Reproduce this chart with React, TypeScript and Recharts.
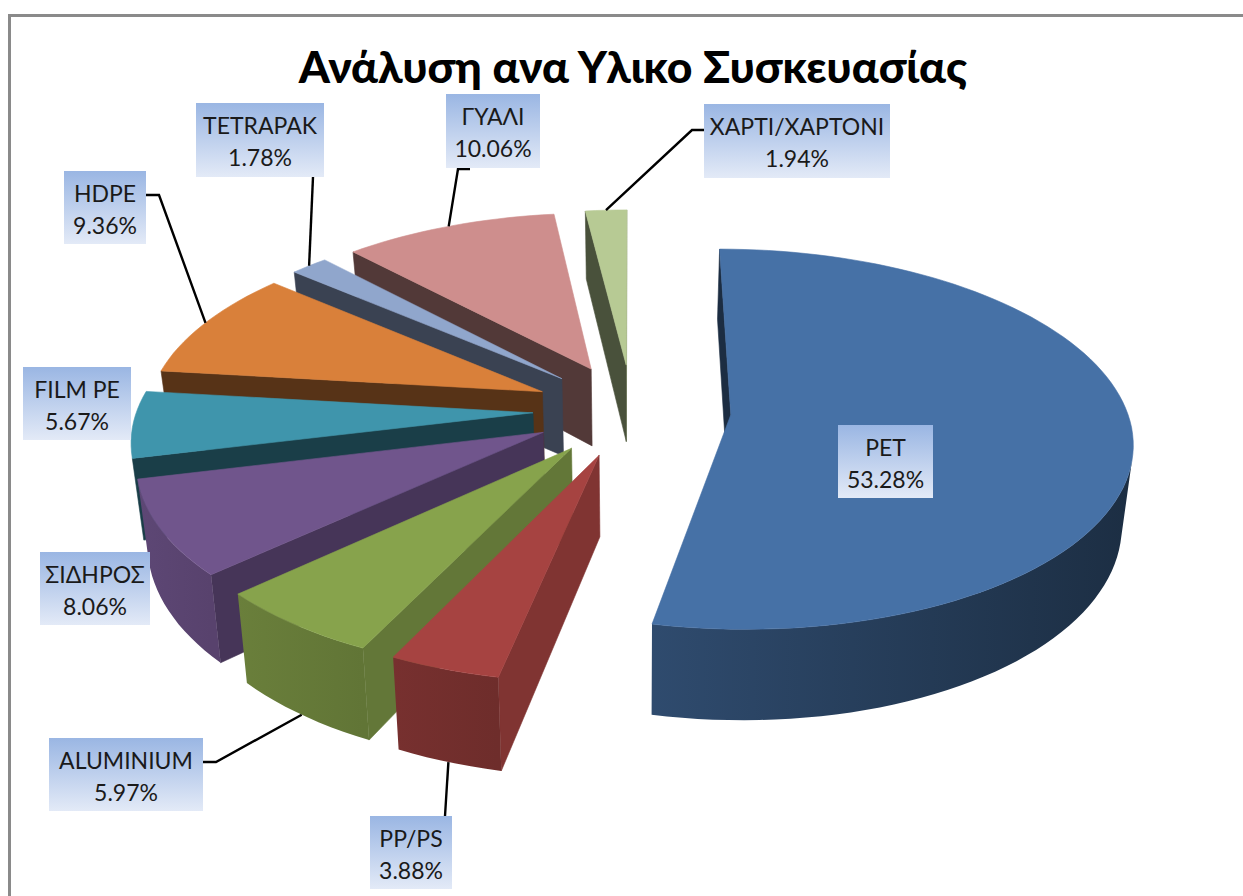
import React from "react";
import { PieChart, Pie, Cell } from "recharts";

// listed back to front so the painter order of the exploded slices is right
const materials = ["ΧΑΡΤΙ/ΧΑΡΤΟΝΙ", "ΓΥΑΛΙ", "TETRAPAK", "HDPE", "FILM PE", "ΣΙΔΗΡΟΣ", "ALUMINIUM", "PP/PS", "PET"];
const shares = [1.94, 10.06, 1.78, 9.36, 5.67, 8.06, 5.97, 3.88, 53.28];
const colors = ["#B7CA94", "#CE8E8D", "#90A6CC", "#D9803A", "#3F95AC", "#70558C", "#87A34C", "#A64341", "#4671A6"];

const data = materials.map((name, i) => ({ name, value: shares[i] }));

// where each data label box sits, elbow of its leader line, and whether the
// leader ends on the lower rim of the slice
type Box = { x: number; y: number; w: number; h: number; from?: number[]; elbow?: number[]; low?: boolean };
const boxes: Record<string, Box> = {
  "ΧΑΡΤΙ/ΧΑΡΤΟΝΙ": { x: 704, y: 104, w: 186, h: 74, from: [704, 130], elbow: [692, 130] },
  "ΓΥΑΛΙ": { x: 446, y: 94, w: 94, h: 74, from: [470, 169], elbow: [458, 169] },
  TETRAPAK: { x: 196, y: 103, w: 128, h: 74, from: [313, 177] },
  HDPE: { x: 64, y: 171, w: 82, h: 73, from: [146, 195], elbow: [159, 195] },
  "FILM PE": { x: 23, y: 367, w: 108, h: 73 },
  "ΣΙΔΗΡΟΣ": { x: 40, y: 552, w: 110, h: 73 },
  ALUMINIUM: { x: 49, y: 738, w: 154, h: 73, from: [203, 762], elbow: [216, 762], low: true },
  "PP/PS": { x: 370, y: 816, w: 82, h: 73, from: [445, 816], low: true },
  PET: { x: 838, y: 425, w: 95, h: 73 },
};

const EXPLODE = 0.25;
const PERSPECTIVE = 0.128;
const SQUASH = 0.469;
const WALL = 79;
const CONVERGE = 0.023; // walls lean inward toward the floor
const FONT = "Lato, 'Open Sans', 'Noto Sans', sans-serif";

const rad = (deg: number) => (deg * Math.PI) / 180;

// world point (unit circle, y going back) to screen; drop is 0 on the top face, 1 on the floor
function project(cx: number, cy: number, r: number, x: number, y: number, drop: number) {
  const s = 1 / (1 + PERSPECTIVE * y);
  return [cx + r * x * s * (1 - CONVERGE * drop), cy - r * SQUASH * y * s + WALL * drop * s];
}

function shade(hex: string, f: number) {
  const n = parseInt(hex.slice(1), 16);
  const c = [(n >> 16) & 255, (n >> 8) & 255, n & 255].map((v) => Math.round(v * f));
  return `rgb(${c[0]},${c[1]},${c[2]})`;
}

function area(pts: number[][]) {
  let a = 0;
  pts.forEach((p, i) => {
    const q = pts[(i + 1) % pts.length];
    a += p[0] * q[1] - q[0] * p[1];
  });
  return a;
}

const pointsAttr = (pts: number[][]) => pts.map((p) => `${p[0].toFixed(1)},${p[1].toFixed(1)}`).join(" ");

const cutShade = (nx: number) => 0.4 + 0.38 * Math.max(0, (nx - 0.2) / 0.8);
const rimShade = (nx: number) => 0.62 - 0.22 * nx;

function Wedge3D(props: any) {
  const { cx, cy, outerRadius: r, startAngle, endAngle, fill, index } = props;
  const mid = rad((startAngle + endAngle) / 2);
  const ox = EXPLODE * Math.cos(mid);
  const oy = EXPLODE * Math.sin(mid);

  const arc: number[][] = [];
  const steps = Math.max(4, Math.ceil(Math.abs(endAngle - startAngle) / 2));
  for (let i = 0; i <= steps; i++) {
    const a = rad(startAngle + ((endAngle - startAngle) * i) / steps);
    arc.push([Math.cos(a), Math.sin(a)]);
  }
  const at = (w: number[], drop: number) => project(cx, cy, r, ox + w[0], oy + w[1], drop);
  const apexTop = project(cx, cy, r, ox, oy, 0);
  const apexLow = project(cx, cy, r, ox, oy, 1);
  const top = [apexTop, ...arc.map((w) => at(w, 0))];
  const sign = Math.sign(area(top));
  const facing = (pts: number[][]) => Math.sign(area(pts)) !== sign;

  // flat cut faces
  const first = arc[0];
  const last = arc[arc.length - 1];
  const startFace = [apexTop, at(first, 0), at(first, 1), apexLow];
  const endFace = [at(last, 0), apexTop, apexLow, at(last, 1)];

  // the part of the rim that faces the camera, as one polygon
  const rim: number[][] = [];
  for (let i = 0; i < arc.length - 1; i++) {
    const quad = [at(arc[i], 0), at(arc[i + 1], 0), at(arc[i + 1], 1), at(arc[i], 1)];
    if (facing(quad)) {
      if (!rim.length) rim.push(arc[i]);
      rim.push(arc[i + 1]);
    }
  }
  const rimPts = [...rim.map((w) => at(w, 0)), ...rim.map((w) => at(w, 1)).reverse()];
  const rimX = rim.map((w) => w[0]);
  const leftW = rim[rimX.indexOf(Math.min(...rimX))];
  const rightW = rim[rimX.indexOf(Math.max(...rimX))];
  const gradId = `rim-${index}`;

  return (
    <g>
      {facing(startFace) && (
        <polygon points={pointsAttr(startFace)} fill={shade(fill, cutShade(first[1]))} stroke={shade(fill, cutShade(first[1]))} strokeWidth={0.6} />
      )}
      {facing(endFace) && (
        <polygon points={pointsAttr(endFace)} fill={shade(fill, cutShade(-last[1]))} stroke={shade(fill, cutShade(-last[1]))} strokeWidth={0.6} />
      )}
      {rim.length > 0 && (
        <>
          <defs>
            <linearGradient id={gradId} gradientUnits="userSpaceOnUse" x1={at(leftW, 0)[0]} y1={0} x2={at(rightW, 0)[0]} y2={0}>
              <stop offset="0%" stopColor={shade(fill, rimShade(leftW[0]))} />
              <stop offset="100%" stopColor={shade(fill, rimShade(rightW[0]))} />
            </linearGradient>
          </defs>
          <polygon points={pointsAttr(rimPts)} fill={`url(#${gradId})`} />
        </>
      )}
      <polygon points={pointsAttr(top)} fill={fill} stroke={fill} strokeWidth={0.6} />
    </g>
  );
}

function DataLabel(props: any) {
  const { cx, cy, outerRadius: r, midAngle, name, value, index } = props;
  const box = boxes[name];
  if (!box) return null;
  const mid = rad(midAngle);
  const wx = (1 + EXPLODE) * Math.cos(mid);
  const wy = (1 + EXPLODE) * Math.sin(mid);
  const end = project(cx, cy, r, wx, wy, box.low ? 1 : 0);
  const leader = box.from ? [box.from, ...(box.elbow ? [box.elbow] : []), end] : null;
  const id = `label-fill-${index}`;
  return (
    <g>
      <defs>
        <linearGradient id={id} x1="0" y1="0" x2="0" y2="1">
          <stop offset="0%" stopColor="#9AB6E3" />
          <stop offset="100%" stopColor="#E3EAF7" />
        </linearGradient>
      </defs>
      {leader && <polyline points={pointsAttr(leader)} fill="none" stroke="#000" strokeWidth={2.4} />}
      <rect x={box.x} y={box.y} width={box.w} height={box.h} fill={`url(#${id})`} />
      <text x={box.x + box.w / 2} y={box.y + 31} textAnchor="middle" fontFamily={FONT} fontSize={23} fill="#1a1a1a">
        {name}
      </text>
      <text x={box.x + box.w / 2} y={box.y + 63} textAnchor="middle" fontFamily={FONT} fontSize={23} fill="#1a1a1a">
        {value.toFixed(2)}%
      </text>
    </g>
  );
}

export default function App() {
  return (
    <div style={{ position: "absolute", left: 0, top: 0, width: 1243, height: 896, background: "#fff", overflow: "hidden" }}>
      <div
        style={{
          position: "absolute",
          left: 8,
          top: 14,
          width: 1300,
          height: 950,
          border: "3px solid #8a8a8a",
          boxSizing: "border-box",
        }}
      />
      <div
        style={{
          position: "absolute",
          left: 0,
          top: 35,
          width: 1266,
          textAlign: "center",
          fontFamily: FONT,
          fontWeight: 900,
          fontSize: 44.5,
          lineHeight: "62px",
          color: "#000",
        }}
      >
        Ανάλυση ανα Υλικο Συσκευασίας
      </div>
      <div style={{ position: "absolute", left: 0, top: 0 }}>
        <PieChart width={1243} height={896} margin={{ top: 0, right: 0, bottom: 0, left: 0 }}>
          <Pie
            data={data}
            dataKey="value"
            nameKey="name"
            cx={632}
            cy={410}
            outerRadius={396}
            startAngle={90}
            endAngle={450}
            stroke="none"
            isAnimationActive={false}
            shape={Wedge3D}
            label={DataLabel}
            labelLine={false}
          >
            {data.map((d, i) => (
              <Cell key={d.name} fill={colors[i]} />
            ))}
          </Pie>
        </PieChart>
      </div>
    </div>
  );
}
